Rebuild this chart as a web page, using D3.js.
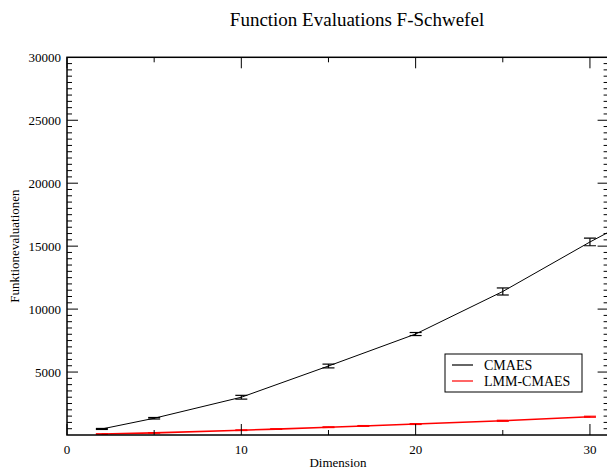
<!DOCTYPE html>
<html>
<head>
<meta charset="utf-8">
<script src="https://cdn.jsdelivr.net/npm/d3@7"></script>
<style>
  html, body { margin: 0; padding: 0; background: #fff; }
  svg { display: block; font-family: "Liberation Serif", "DejaVu Serif", serif; }
</style>
</head>
<body>
<svg id="chart" width="607" height="473"></svg>
<script>
// Dimensions tested and mean function evaluations
const cmaesDims = [2, 5, 10, 15, 20, 25, 30, 35];
const cmaesMean = [480, 1330, 3000, 5480, 8020, 11400, 15330, 19000];
const cmaesErr  = [40, 60, 150, 150, 120, 280, 300, 300];

const lmmDims = [2, 5, 10, 12, 15, 17, 20, 25, 30];
const lmmMean = [80, 170, 380, 470, 620, 720, 870, 1130, 1450];
const lmmErr  = [15, 20, 25, 25, 30, 30, 35, 40, 40];

const xMajorTicks = [0, 10, 20, 30];
const xMinorTicks = [5, 15, 25];
const yMajorTicks = [5000, 10000, 15000, 20000, 25000, 30000];

const seriesNames = ["CMAES", "LMM-CMAES"];
const seriesColors = ["#000000", "#ff0000"];

const svg = d3.select("#chart");
const plot = { left: 67, right: 608.6, top: 57.3, bottom: 435 };

const x = d3.scaleLinear().domain([0, 31.07]).range([plot.left, plot.right]);
const y = d3.scaleLinear().domain([0, 30000]).range([plot.bottom, plot.top]);

svg.append("defs").append("clipPath").attr("id", "plotClip")
  .append("rect")
  .attr("x", plot.left).attr("y", plot.top)
  .attr("width", plot.right - plot.left).attr("height", plot.bottom - plot.top);

// Title and axis labels
svg.append("text")
  .attr("x", 357).attr("y", 26)
  .attr("text-anchor", "middle").attr("font-size", 19)
  .text("Function Evaluations F-Schwefel");

svg.append("text")
  .attr("x", 338).attr("y", 467)
  .attr("text-anchor", "middle").attr("font-size", 13)
  .text("Dimension");

svg.append("text")
  .attr("transform", `translate(19, ${(plot.top + plot.bottom) / 2}) rotate(-90)`)
  .attr("text-anchor", "middle").attr("font-size", 13)
  .text("Funktionevaluationen");

// Data series
const series = [
  { dims: cmaesDims, mean: cmaesMean, err: cmaesErr, color: seriesColors[0] },
  { dims: lmmDims, mean: lmmMean, err: lmmErr, color: seriesColors[1] }
];

const dataLayer = svg.append("g").attr("clip-path", "url(#plotClip)");
const line = d3.line().x(d => x(d[0])).y(d => y(d[1]));

series.slice().reverse().forEach(s => {
  const pts = s.dims.map((d, i) => [d, s.mean[i], s.err[i]]);
  dataLayer.append("path")
    .datum(pts)
    .attr("d", line)
    .attr("fill", "none")
    .attr("stroke", s.color)
    .attr("stroke-width", s.color === "#ff0000" ? 1.6 : 1.0);

  const eb = dataLayer.append("g").attr("stroke", s.color).attr("stroke-width", 1.2);
  pts.forEach(p => {
    const cx = x(p[0]);
    const y0 = y(p[1] - p[2]);
    const y1 = y(p[1] + p[2]);
    eb.append("line").attr("x1", cx).attr("x2", cx).attr("y1", y0).attr("y2", y1);
    eb.append("line").attr("x1", cx - 6).attr("x2", cx + 6).attr("y1", y0).attr("y2", y0);
    eb.append("line").attr("x1", cx - 6).attr("x2", cx + 6).attr("y1", y1).attr("y2", y1);
  });
});

// Frame and inward ticks
svg.append("rect")
  .attr("x", plot.left).attr("y", plot.top)
  .attr("width", plot.right - plot.left).attr("height", plot.bottom - plot.top)
  .attr("fill", "none").attr("stroke", "#000").attr("stroke-width", 1.5);

const ticks = svg.append("g").attr("stroke", "#000").attr("stroke-width", 1);
xMajorTicks.forEach(v => {
  ticks.append("line").attr("x1", x(v)).attr("x2", x(v)).attr("y1", plot.bottom).attr("y2", plot.bottom - 11);
  ticks.append("line").attr("x1", x(v)).attr("x2", x(v)).attr("y1", plot.top).attr("y2", plot.top + 11);
});
xMinorTicks.forEach(v => {
  ticks.append("line").attr("x1", x(v)).attr("x2", x(v)).attr("y1", plot.bottom).attr("y2", plot.bottom - 5);
  ticks.append("line").attr("x1", x(v)).attr("x2", x(v)).attr("y1", plot.top).attr("y2", plot.top + 5);
});
d3.range(500, 30000, 500).forEach(v => {
  const major = v % 5000 === 0;
  const len = major ? 11 : 5;
  ticks.append("line").attr("x1", plot.left).attr("x2", plot.left + len).attr("y1", y(v)).attr("y2", y(v));
  ticks.append("line").attr("x1", plot.right).attr("x2", plot.right - len).attr("y1", y(v)).attr("y2", y(v));
});

// Tick labels
svg.append("g").selectAll("text").data(xMajorTicks).join("text")
  .attr("x", d => x(d)).attr("y", 454)
  .attr("text-anchor", "middle").attr("font-size", 13)
  .text(d => d);

svg.append("g").selectAll("text").data(yMajorTicks).join("text")
  .attr("x", plot.left - 6).attr("y", d => y(d) + 4.5)
  .attr("text-anchor", "end").attr("font-size", 13)
  .text(d => d);

// Legend
const legend = svg.append("g");
legend.append("rect")
  .attr("x", 445).attr("y", 354).attr("width", 137).attr("height", 38)
  .attr("fill", "#fff").attr("stroke", "#000").attr("stroke-width", 1);
seriesNames.forEach((name, i) => {
  const ly = 365 + i * 16;
  legend.append("line")
    .attr("x1", 452).attr("x2", 473).attr("y1", ly).attr("y2", ly)
    .attr("stroke", seriesColors[i]).attr("stroke-width", 1.2);
  legend.append("text")
    .attr("x", 484).attr("y", ly + 5).attr("font-size", 14)
    .text(name);
});
</script>
</body>
</html>
